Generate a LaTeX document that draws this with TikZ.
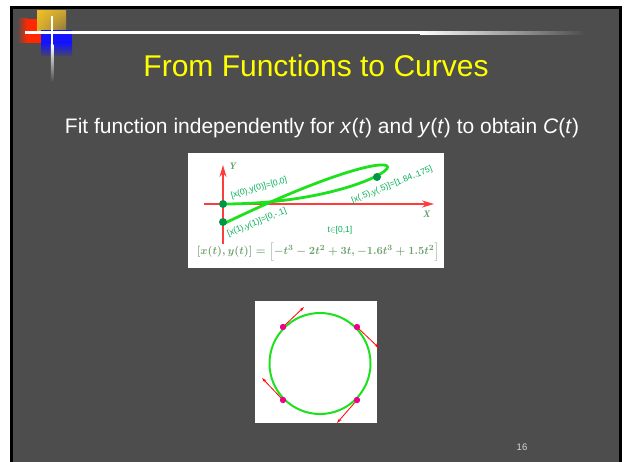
\documentclass[tikz,border=0pt]{standalone}
\usepackage{fontspec}
\setmainfont{Liberation Sans}
\newfontfamily\lserif{Liberation Serif}
\usepackage{xcolor}
\definecolor{slide}{RGB}{77,77,77}
\definecolor{ttlyel}{RGB}{255,255,0}
\definecolor{logored}{RGB}{255,40,0}
\definecolor{logogold}{RGB}{240,190,40}
\definecolor{logoblue}{RGB}{20,20,255}
\definecolor{crvgreen}{RGB}{30,225,30}
\definecolor{dotgreen}{RGB}{0,150,70}
\definecolor{lblgreen}{RGB}{0,175,85}
\definecolor{eqgreen}{RGB}{110,160,110}
\definecolor{axred}{RGB}{255,60,60}
\definecolor{pgnum}{RGB}{215,215,215}
\usepackage{tikz}
\usetikzlibrary{arrows.meta,shadings}

\begin{document}
\begin{tikzpicture}[x=1pt,y=-1pt,
  ttl/.style={font=\fontsize{30}{36}\selectfont,color=ttlyel,anchor=base},
  sub/.style={font=\fontsize{21}{26}\selectfont,color=white,anchor=base},
  lbl/.style={font=\fontsize{8.5}{10}\selectfont,color=lblgreen,inner sep=0pt},
  axl/.style={font=\lserif\bfseries\itshape\fontsize{10}{12}\selectfont,color=eqgreen,inner sep=0pt},
  ax/.style={draw=axred,line width=1.8pt,-{Stealth[length=12pt,width=7pt]}},
  gdot/.style={circle,fill=dotgreen,inner sep=0pt,minimum size=8pt},
  mdot/.style={circle,fill=magenta,inner sep=0pt,minimum size=6pt},
  tgt/.style={draw=red,line width=0.8pt,-{Stealth[length=5pt,width=3pt]}},
]
  \useasboundingbox (0,0) rectangle (626,462);
  \fill[white] (0,0) rectangle (626,462);
  \fill[black] (10,6) rectangle (622,462);
  \fill[slide] (13,9) rectangle (619,462);

  %% logo
  \shade[left color=slide,right color=logored] (17,19) rectangle (27,43);
  \fill[logored] (27,19) rectangle (41,43);
  \shade[upper left=logogold,upper right=logogold!75!slide,
         lower left=logogold!85!slide,lower right=logogold!35!slide] (37,11) rectangle (66,32);
  \fill[logoblue] (41,30) rectangle (72,43);
  \shade[top color=logoblue,bottom color=logoblue!15!slide] (41,43) rectangle (72,56);
  \fill[white] (25,31.5) rectangle (420,34.5);
  \shade[left color=white,right color=slide] (420,31.5) rectangle (585,34.5);
  \fill[white] (50.8,16) rectangle (53.3,45);
  \shade[top color=white,bottom color=slide] (50.8,45) rectangle (53.3,82);

  \node[ttl] (title) at (316,77) {From Functions to Curves};
  \node[sub] (subt) at (322,134) {Fit function independently for \textit{x}(\textit{t}) and \textit{y}(\textit{t}) to obtain \textit{C}(\textit{t})};

  %% parametric curve
  \fill[white] (188,153) rectangle (444,268);
  \coordinate (yb) at (223,244);
  \coordinate (yt) at (223,165);
  \coordinate (xl) at (204,204);
  \coordinate (xr) at (434,204);
  \draw[ax] (yb) -- (yt);
  \draw[ax] (xl) -- (xr);
  \node[axl] (ylab) at (233,166) {Y};
  \node[axl] (xlab) at (427,214) {X};
  \draw[crvgreen,line width=2.8pt,line join=round]
    plot[domain=0:1,samples=120,smooth]
    ({223+187*(-\x*\x*\x-2*\x*\x+3*\x)},{204-200*(-1.6*\x*\x*\x+1.5*\x*\x)});
  \node[gdot] (p0) at (223,204) {};
  \node[gdot] (p1) at (223,222) {};
  \node[gdot] (ph) at (377,177) {};
  \node[lbl,rotate=16] (l0) at (259,188) {[x(0),y(0)]=[0,0]};
  \node[lbl,rotate=22] (l1) at (257,222.5) {[x(1),y(1)]=[0,-.1]};
  \node[lbl,rotate=22] (lh) at (392,185) {[x(.5),y(.5)]=[1.84,.175]};
  \node[lbl] (trng) at (340,230) {t$\in$[0,1]};
  \node[color=eqgreen,font=\fontsize{11}{13}\selectfont\boldmath,inner sep=0pt] (eqn) at (318,252)
    {$[x(t),y(t)]=\Bigl[-t^3-2t^2+3t,-1.6t^3+1.5t^2\Bigr]$};

  %% circle with tangents
  \fill[white] (255,301) rectangle (377,423);
  \node[circle,draw=crvgreen,line width=2pt,minimum size=101pt,inner sep=0pt] (circ) at (320,363.5) {};
  \coordinate (a1) at (304,307);
  \coordinate (a2) at (379,348);
  \coordinate (a3) at (337,423);
  \coordinate (a4) at (262,378);
  \node[mdot] (m1) at (283,327) {};
  \node[mdot] (m2) at (357,327) {};
  \node[mdot] (m3) at (357,400) {};
  \node[mdot] (m4) at (283,400) {};
  \draw[tgt] (m1.center) -- (a1);
  \draw[tgt] (m2.center) -- (a2);
  \draw[tgt] (m3.center) -- (a3);
  \draw[tgt] (m4.center) -- (a4);
  \node[mdot] at (m1) {};
  \node[mdot] at (m2) {};
  \node[mdot] at (m3) {};
  \node[mdot] at (m4) {};

  \node[font=\fontsize{9.5}{11}\selectfont,color=pgnum,anchor=base] (pnum) at (522,450) {16};
\end{tikzpicture}
\end{document}
